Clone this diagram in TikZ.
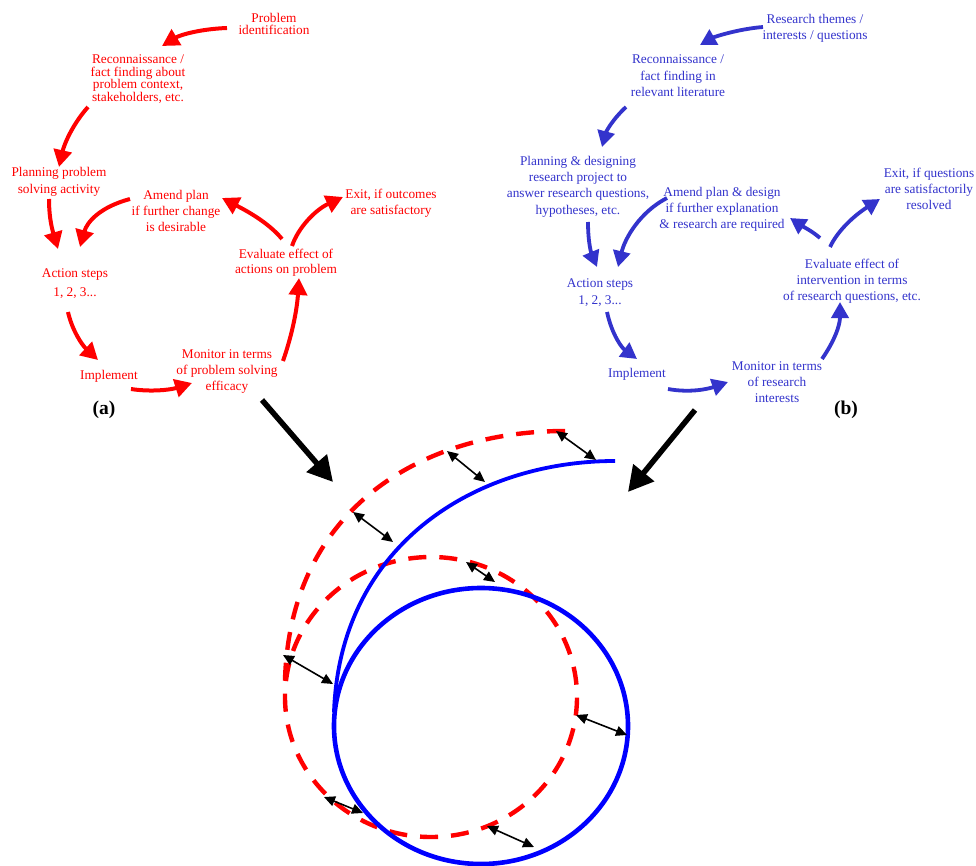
\documentclass[tikz,border=0pt]{standalone}
\usepackage{fontspec}
\setmainfont{Liberation Serif}
\usetikzlibrary{arrows.meta,calc}
\definecolor{rsblue}{RGB}{51,51,204}
\definecolor{rsred}{RGB}{255,0,0}
\definecolor{pureblue}{RGB}{0,0,255}
\begin{document}
\begin{tikzpicture}[x=1pt,y=-1pt,
  txt/.style={inner sep=0pt, align=center, font=\fontsize{13.3}{16}\selectfont},
  sk/.style={font=\fontsize{13.3}{#1}\selectfont},
  rtx/.style={txt, text=rsred},
  btx/.style={txt, text=rsblue},
  tag/.style={inner sep=0pt, font=\fontsize{19.5}{22}\selectfont\bfseries},
  rarr/.style={draw=rsred, line width=4pt, -{Triangle[length=17pt,width=18pt]}},
  barr/.style={draw=rsblue, line width=3.8pt, -{Triangle[length=16pt,width=17pt]}},
  bigarr/.style={draw=black, line width=5.5pt, -{Triangle[length=25pt,width=26pt]}},
  gaparr/.style={draw=black, line width=1.6pt, {Triangle[length=11pt,width=10pt]}-{Triangle[length=11pt,width=10pt]}},
  rdash/.style={draw=rsred, line width=4.4pt, dash pattern=on 18pt off 13pt},
  bring/.style={draw=pureblue, line width=4.6pt},
  barm/.style={draw=pureblue, line width=3.8pt}]

\fill[white] (0,0) rectangle (976,866);
\useasboundingbox (0,0) rectangle (976,866);

% ---------- (a) problem-solving cycle ----------
\node[rtx, sk=12] (pi) at (274,24) {Problem\\identification};
\node[rtx, sk=12.7] (rec) at (138,79) {Reconnaissance /\\fact finding about\\problem context,\\stakeholders, etc.};
\node[rtx, sk=17] (plan) at (59,181.5) {Planning problem\\solving activity};
\node[rtx] (amend) at (176,211) {Amend plan\\if further change\\is desirable};
\node[rtx, sk=15] (eval) at (286,262.5) {Evaluate effect of\\actions on problem};
\node[rtx] (exit) at (391,203) {Exit, if outcomes\\are satisfactory};
\node[rtx, sk=19] (act) at (75,283.5) {Action steps\\1, 2, 3...};
\node[rtx] (impl) at (109,376) {Implement};
\node[rtx] (mon) at (227,372) {Monitor in terms\\of problem solving\\efficacy};
\node[tag] (la) at (104,410) {(a)};

\draw[rarr] ($(pi)+(-47,4)$) .. controls +(-27,1) and +(18,-11) .. ($(rec)+(24,-33)$);
\draw[rarr] ($(rec)+(-50,28)$) .. controls +(-16,18) and +(5,-22) .. ($(plan)+(0,-14.5)$);
\draw[rarr] ($(plan)+(-10,17.5)$) .. controls +(0,21) and +(-5,-17) .. ($(act)+(-17,-34.5)$);
\draw[rarr] ($(amend)+(-46,-12)$) .. controls +(-30,8) and +(7,-25) .. ($(act)+(5,-36.5)$);
\draw[rarr] ($(eval)+(-4,-23.5)$) .. controls +(-14,-17) and +(23,12) .. ($(amend)+(46,-13)$);
\draw[rarr] ($(eval)+(6,-16.5)$) .. controls +(6,-18) and +(-28,13) .. ($(exit)+(-48,-6)$);
\draw[rarr] ($(act)+(-7,28.5)$) .. controls +(4,18) and +(-16,-15) .. ($(impl)+(-11,-16)$);
\draw[rarr] ($(impl)+(22,13)$) .. controls +(19,3) and +(-22,7) .. ($(mon)+(-35,11)$);
\draw[rarr] ($(mon)+(56,-11)$) .. controls +(9,-26) and +(-2,32) .. ($(eval)+(13,15.5)$);

% ---------- (b) research cycle ----------
\node[btx] (rt) at (815,28) {Research themes /\\interests / questions};
\node[btx, sk=16.5] (brec) at (678,76) {Reconnaissance /\\fact finding in\\relevant literature};
\node[btx, sk=16.3] (bplan) at (578,186.5) {Planning \& designing\\research project to\\answer research questions,\\hypotheses, etc.};
\node[btx] (bamend) at (722,209) {Amend plan \& design\\if further explanation\\\& research are required};
\node[btx] (bexit) at (929,189) {Exit, if questions\\are satisfactorily\\resolved};
\node[btx] (beval) at (852,281) {Evaluate effect of\\intervention in terms\\of research questions, etc.};
\node[btx, sk=17] (bact) at (600,292.5) {Action steps\\1, 2, 3...};
\node[btx] (bimpl) at (637,374) {Implement};
\node[btx] (bmon) at (777,382) {Monitor in terms\\of research\\interests};
\node[tag] (lb) at (846,410) {(b)};

\draw[barr] ($(rt)+(-52,-1)$) .. controls +(-25,2) and +(14,-8) .. ($(brec)+(22,-31)$);
\draw[barr] ($(brec)+(-52,31)$) .. controls +(-14,13) and +(4,-15) .. ($(bplan)+(24,-39.5)$);
\draw[barr] ($(bplan)+(10,35.5)$) .. controls +(0,23) and +(-5,-12) .. ($(bact)+(-3,-25.5)$);
\draw[barr] ($(bamend)+(-55,-11)$) .. controls +(-27,14) and +(7,-29) .. ($(bact)+(18,-25.5)$);
\draw[barr] ($(beval)+(-32,-43)$) .. controls +(-8,-7) and +(12,8) .. ($(bamend)+(68,9)$);
\draw[barr] ($(beval)+(-22,-34)$) .. controls +(8,-17) and +(-25,16) .. ($(bexit)+(-49,10)$);
\draw[barr] ($(bact)+(7,19.5)$) .. controls +(5,23) and +(-15,-11) .. ($(bimpl)+(0,-15)$);
\draw[barr] ($(bimpl)+(31,15)$) .. controls +(22,4) and +(-20,7) .. ($(bmon)+(-49,0)$);
\draw[barr] ($(bmon)+(45,-23)$) .. controls +(13,-19) and +(0,23) .. ($(beval)+(-12,21)$);

% ---------- merging of the two spirals ----------
\coordinate (dropA) at (262,400);
\coordinate (landA) at (333,482);
\coordinate (dropB) at (695,410);
\coordinate (landB) at (628,492);
\draw[bigarr] (dropA) -- (landA);
\draw[bigarr] (dropB) -- (landB);

% dashed red spiral: entry arm and loop
\draw[rdash] (565,431) .. controls (420,431) and (290,510) .. (285,680) -- (285,697)
  arc[start angle=180, end angle=-180, x radius=146, y radius=140];
% solid blue spiral: entry arm and loop
\draw[barm] (615,461) .. controls (475,461) and (340,545) .. (334,712);
\draw[bring] (481,726) ellipse [x radius=147, y radius=138];

% gaps between the two spirals
\coordinate (g1a) at (556,431); \coordinate (g1b) at (596,460);
\coordinate (g2a) at (447,451); \coordinate (g2b) at (485,482);
\coordinate (g3a) at (353,512); \coordinate (g3b) at (393,542);
\coordinate (g4a) at (466,562); \coordinate (g4b) at (495,582);
\coordinate (g5a) at (283,655); \coordinate (g5b) at (333,684);
\coordinate (g6a) at (576,715); \coordinate (g6b) at (627,735);
\coordinate (g7a) at (324,797); \coordinate (g7b) at (363,813);
\coordinate (g8a) at (487,826); \coordinate (g8b) at (534,847);
\foreach \k in {1,...,8} \draw[gaparr] (g\k a) -- (g\k b);
\end{tikzpicture}
\end{document}
